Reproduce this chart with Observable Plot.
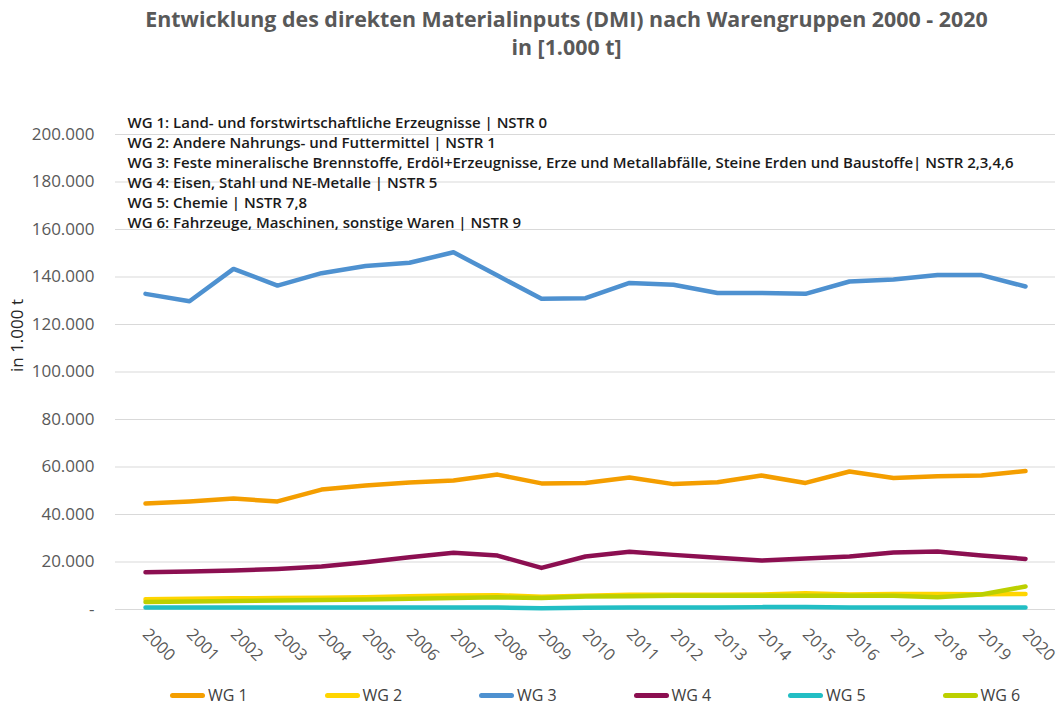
<!DOCTYPE html>
<html>
<head>
<meta charset="utf-8">
<script src="https://cdn.jsdelivr.net/npm/d3@7"></script>
<script src="https://cdn.jsdelivr.net/npm/@observablehq/plot@0.6"></script>
<style>
  body { margin: 0; background: #fff; font-family: "Open Sans", sans-serif; }
  #wrap { position: relative; width: 1063px; height: 706px; overflow: hidden; }
  #title { height: 90px; box-sizing: border-box; padding-top: 5px; padding-left: 70px; text-align: center;
           font-weight: 700; font-size: 21.4px; line-height: 28px; color: #595959; }
  #legend { position: absolute; left: 170px; top: 684px; display: flex; }
  .item { width: 154.5px; display: flex; align-items: center; font-size: 16px; color: #404040; }
  .sw { width: 35px; height: 5px; border-radius: 3px; margin-right: 3px; }
</style>
</head>
<body>
<div id="wrap">
  <div id="title"></div>
  <div id="chart"></div>
  <div id="legend"></div>
</div>
<script>
const titleLines = ["Entwicklung des direkten Materialinputs (DMI) nach Warengruppen 2000 - 2020", "in [1.000 t]"];
const yLabel = "in 1.000 t";
const annotationLines = [
  "WG 1: Land- und forstwirtschaftliche Erzeugnisse | NSTR 0",
  "WG 2: Andere Nahrungs- und Futtermittel | NSTR 1",
  "WG 3: Feste mineralische Brennstoffe, Erdöl+Erzeugnisse, Erze und Metallabfälle, Steine Erden und Baustoffe| NSTR 2,3,4,6",
  "WG 4: Eisen, Stahl und NE-Metalle | NSTR 5",
  "WG 5: Chemie | NSTR 7,8",
  "WG 6: Fahrzeuge, Maschinen, sonstige Waren | NSTR 9"
];
const years = ["2000","2001","2002","2003","2004","2005","2006","2007","2008","2009","2010",
               "2011","2012","2013","2014","2015","2016","2017","2018","2019","2020"];
const seriesNames = ["WG 1","WG 2","WG 3","WG 4","WG 5","WG 6"];
const seriesColors = ["#F49E00","#FFD500","#4E91D0","#8C0F51","#22BEC4","#BCD000"];
const yTicks = [0,20000,40000,60000,80000,100000,120000,140000,160000,180000,200000];

const wg1 = [44600,45500,46700,45500,50500,52200,53500,54300,56800,53100,53300,55600,52800,53600,56400,53300,58100,55400,56100,56400,58300];
const wg2 = [4300,4500,4700,4800,5000,5200,5600,5900,6000,5400,5800,6200,6200,6200,6300,6800,6300,6500,6500,6400,6500];
const wg3 = [132900,129800,143400,136400,141600,144600,146000,150400,140600,130800,131100,137500,136700,133300,133300,132900,138100,138900,140800,140800,136000];
const wg4 = [15700,16000,16400,17100,18100,19900,22000,23900,22700,17500,22300,24300,23000,21800,20600,21500,22300,24000,24400,22700,21300];
const wg5 = [800,800,800,800,800,800,800,800,800,500,700,800,800,800,1000,1100,800,800,800,800,800];
const wg6 = [3200,3400,3600,3800,4000,4200,4500,4800,5200,4800,5500,5600,5800,5800,5800,5800,5800,5800,5200,6300,9700];

const seriesValues = [wg1, wg2, wg3, wg4, wg5, wg6];
const rows = seriesNames.flatMap((s, i) => years.map((y, j) => ({series: s, year: y, value: seriesValues[i][j]})));

const de = d3.formatLocale({decimal: ",", thousands: ".", grouping: [3], currency: ["", " €"]});
const fmt = de.format(",.0f");
const tickFormat = d => d === 0 ? "-" : fmt(d);

document.getElementById("title").innerHTML = titleLines.join("<br>");

const chart = Plot.plot({
  width: 1063,
  height: 600,
  marginLeft: 115,
  marginRight: 8,
  marginTop: 44,
  marginBottom: 81,
  style: {fontFamily: "Open Sans, sans-serif", background: "#fff"},
  x: {type: "point", domain: years, padding: 0.5},
  y: {domain: [0, 200000]},
  color: {domain: seriesNames, range: seriesColors},
  marks: [
    Plot.gridY(yTicks, {stroke: "#d9d9d9", strokeOpacity: 1, strokeWidth: 1}),
    Plot.axisY(yTicks, {tickSize: 0, tickPadding: 21, tickFormat, fontSize: 17, fill: "#595959", label: null}),
    Plot.axisX({tickSize: 0, tickPadding: 22, tickRotate: 45, fontSize: 16.5, fill: "#595959", label: null}),
    Plot.lineY(rows, {x: "year", y: "value", z: "series", stroke: "series", strokeWidth: 4.5,
                      strokeLinejoin: "round", strokeLinecap: "round"}),
    Plot.text([annotationLines.join("\n")], {frameAnchor: "top-left", dx: 12, dy: -21, lineAnchor: "top",
                      textAnchor: "start", fontSize: 15, fontWeight: 600, fill: "#1a1a1a", lineHeight: 1.333}),
    Plot.text([yLabel], {frameAnchor: "left", rotate: -90, dx: -98, dy: 0, fontSize: 17, fill: "#262626"})
  ]
});
document.getElementById("chart").appendChild(chart);

const legend = d3.select("#legend");
seriesNames.forEach((s, i) => {
  const it = legend.append("div").attr("class", "item");
  it.append("div").attr("class", "sw").style("background", seriesColors[i]);
  it.append("span").text(s);
});
</script>
</body>
</html>
